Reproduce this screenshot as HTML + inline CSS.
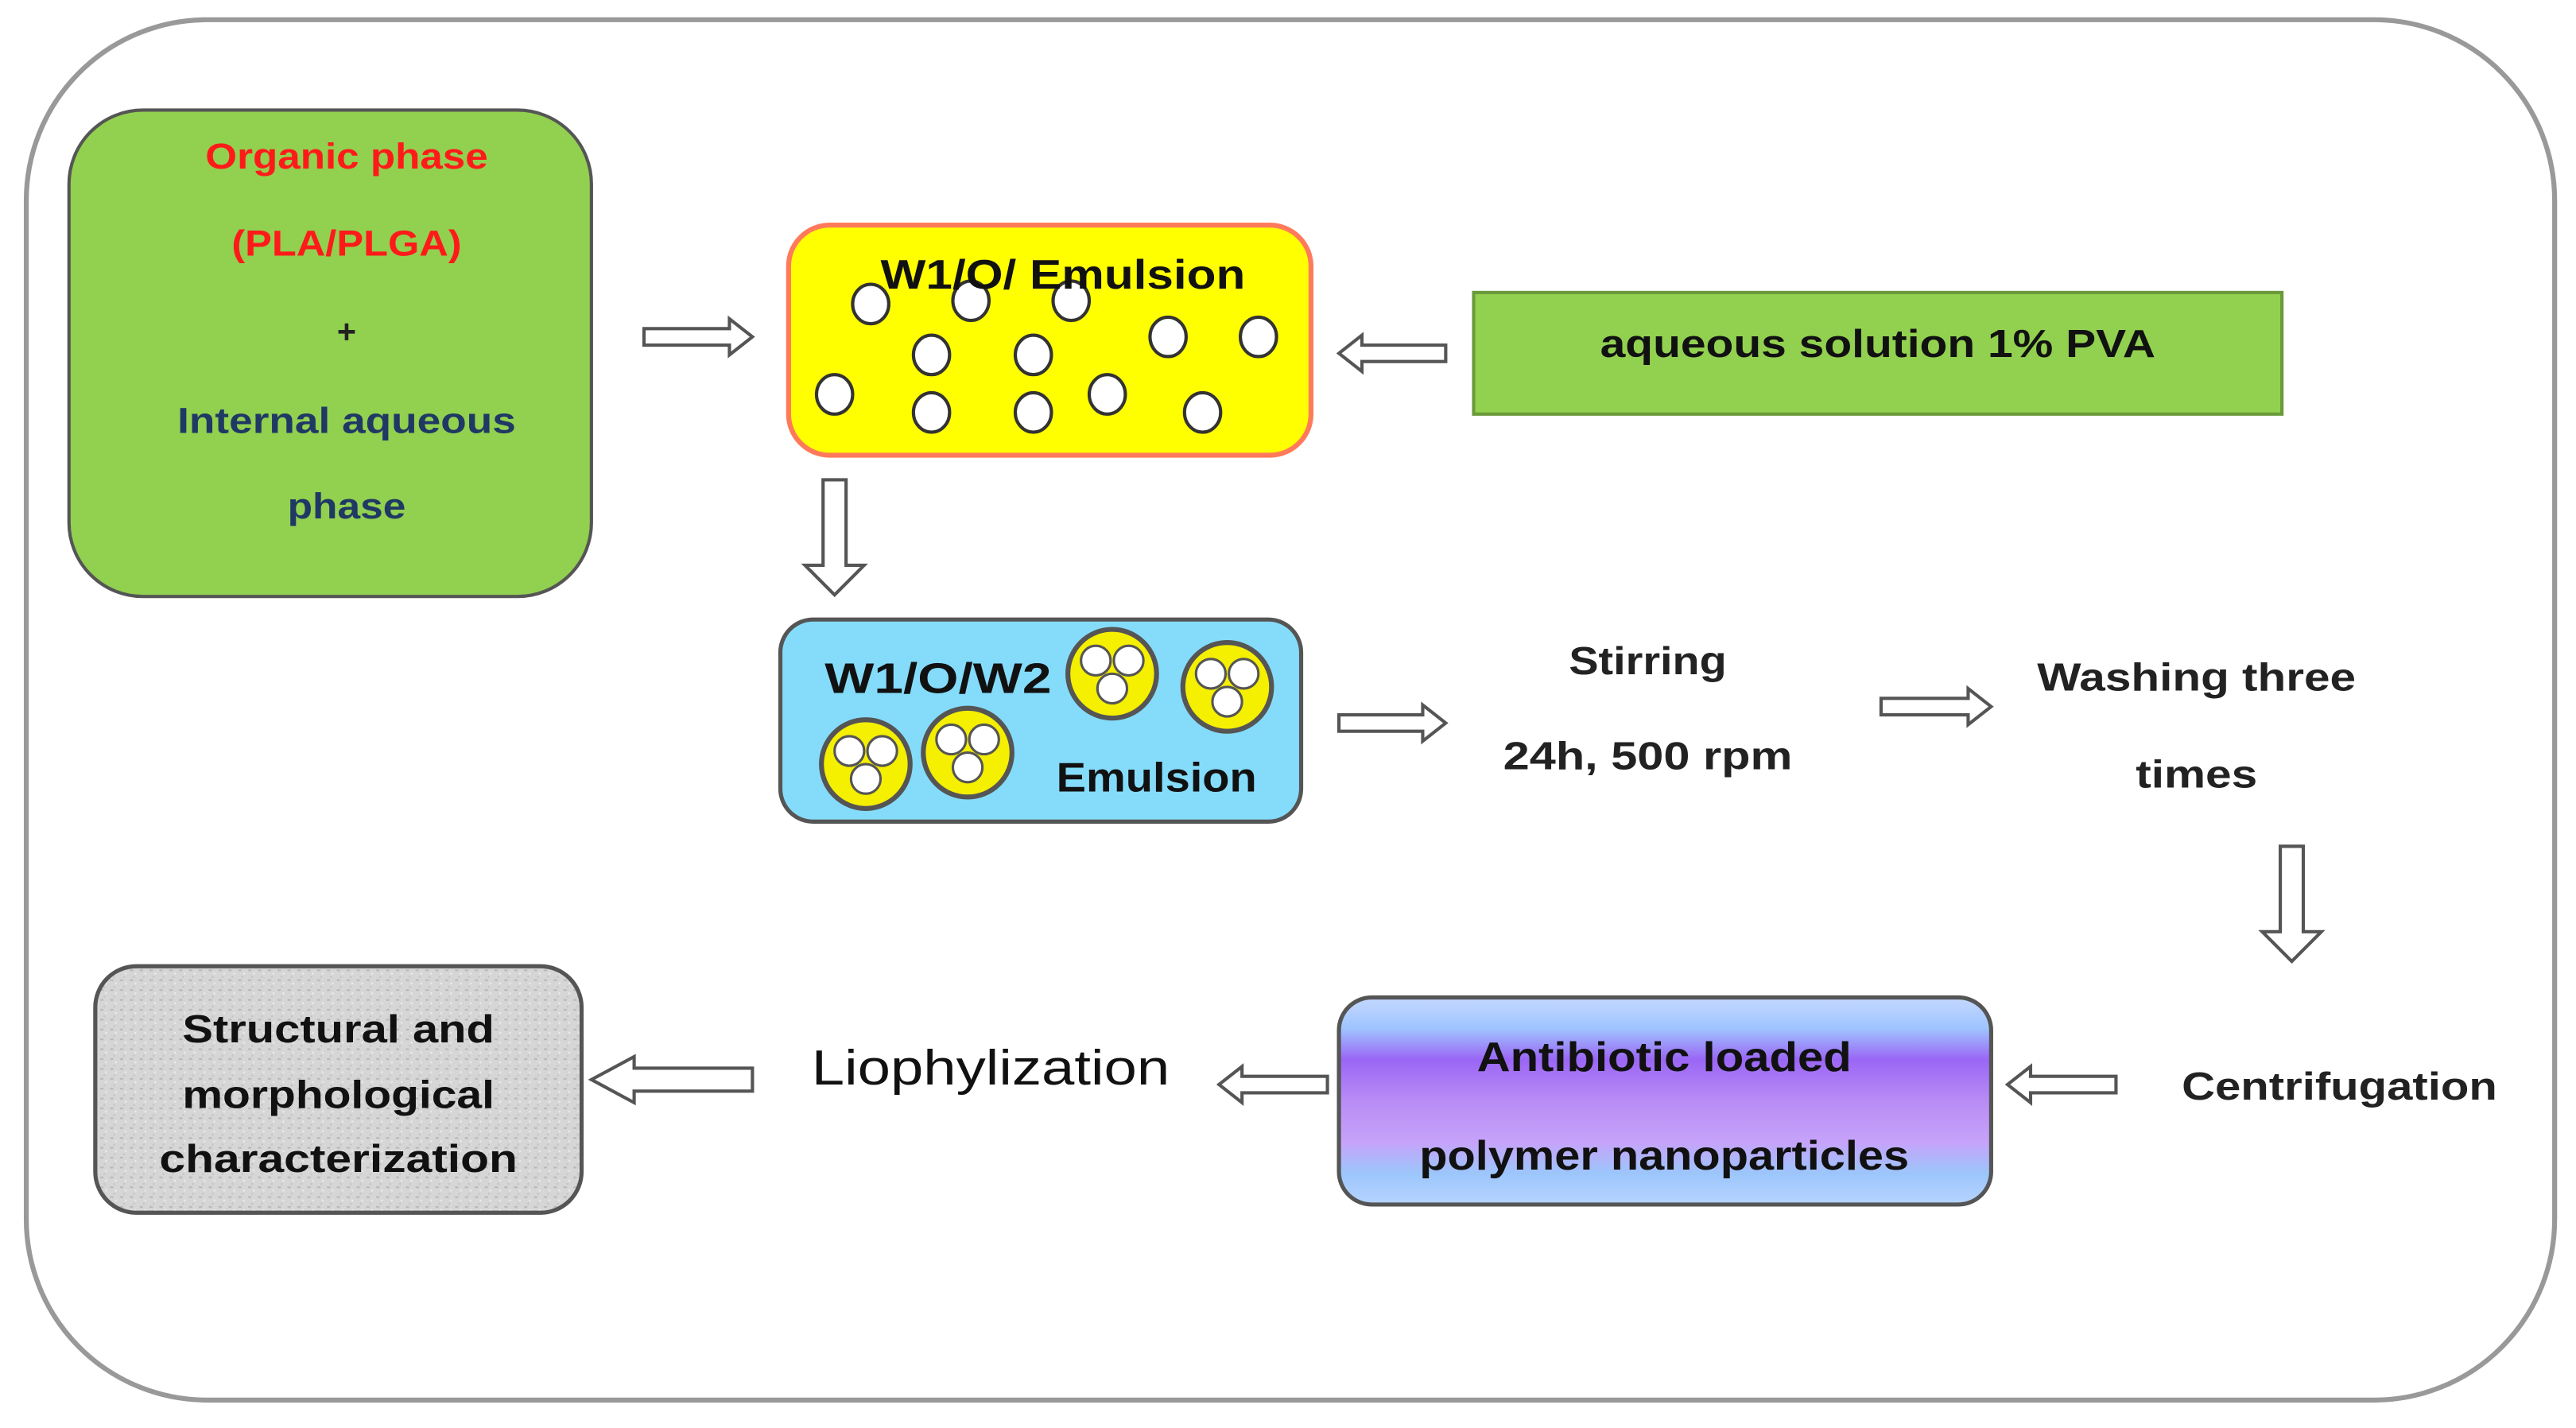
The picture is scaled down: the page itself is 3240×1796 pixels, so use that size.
<!DOCTYPE html>
<html><head><meta charset="utf-8"><style>html,body{margin:0;padding:0;background:#fff}svg{display:block}
text{font-family:"Liberation Sans",sans-serif;font-weight:bold;text-anchor:middle;dominant-baseline:central}</style></head>
<body>
<svg width="3240" height="1796" viewBox="0 0 1568 869" preserveAspectRatio="none" xmlns="http://www.w3.org/2000/svg">
<defs>
<linearGradient id="pg" x1="0" y1="0" x2="0" y2="1">
<stop offset="0" stop-color="#c4d8ff"/><stop offset="0.15" stop-color="#9fc4ff"/><stop offset="0.3" stop-color="#9a66f5"/><stop offset="0.5" stop-color="#b98cf5"/><stop offset="0.7" stop-color="#c6a3fa"/><stop offset="0.85" stop-color="#9cc6fb"/><stop offset="1" stop-color="#b6d4ff"/></linearGradient>
<pattern id="tex" width="6" height="6" patternUnits="userSpaceOnUse"><rect width="6" height="6" fill="#d6d6d6"/><rect x="1" y="2" width="2" height="1" fill="#b8b8b8"/><rect x="4" y="4" width="1" height="1" fill="#eee"/><rect x="3" y="0" width="1" height="1" fill="#c2c2c2"/></pattern>
<g id="wc"><ellipse rx="11" ry="12" fill="#fff" stroke="#333" stroke-width="2"/></g>
<g id="big"><circle r="27" fill="#f5ef00" stroke="#555" stroke-width="3"/><circle cx="-10" cy="-8" r="9" fill="#fff" stroke="#555" stroke-width="1.5"/><circle cx="10" cy="-8" r="9" fill="#fff" stroke="#555" stroke-width="1.5"/><circle cx="0" cy="9" r="9" fill="#fff" stroke="#555" stroke-width="1.5"/></g>
</defs>
<rect x="16" y="12" width="1539" height="840" rx="110" fill="#fff" stroke="#999" stroke-width="3"/>

<rect x="42" y="67" width="318" height="296" rx="45" fill="#92d050" stroke="#555" stroke-width="2"/>
<text x="211" y="95" font-size="22" fill="#ff1a1a" textLength="172" lengthAdjust="spacingAndGlyphs">Organic phase</text>
<text x="211" y="148" font-size="22" fill="#ff1a1a" textLength="140" lengthAdjust="spacingAndGlyphs">(PLA/PLGA)</text>
<text x="211" y="202" font-size="20" fill="#222">+</text>
<text x="211" y="256" font-size="22" fill="#1f3864" textLength="206" lengthAdjust="spacingAndGlyphs">Internal aqueous</text>
<text x="211" y="308" font-size="22" fill="#1f3864" textLength="72" lengthAdjust="spacingAndGlyphs">phase</text>

<rect x="480" y="137" width="318" height="140" rx="25" fill="#ffff00" stroke="#ff7a5a" stroke-width="3"/>
<g>
<use href="#wc" x="530" y="185"/><use href="#wc" x="591" y="183"/><use href="#wc" x="652" y="183"/><use href="#wc" x="711" y="205"/><use href="#wc" x="766" y="205"/><use href="#wc" x="567" y="216"/><use href="#wc" x="629" y="216"/><use href="#wc" x="508" y="240"/><use href="#wc" x="567" y="251"/><use href="#wc" x="629" y="251"/><use href="#wc" x="674" y="240"/><use href="#wc" x="732" y="251"/>
</g>
<text x="647" y="167" font-size="25" fill="#111" textLength="222" lengthAdjust="spacingAndGlyphs">W1/O/ Emulsion</text>

<rect x="897" y="178" width="492" height="74" fill="#92d050" stroke="#6a9a3a" stroke-width="2"/>
<text x="1143" y="209" font-size="24" fill="#111" textLength="338" lengthAdjust="spacingAndGlyphs">aqueous solution 1% PVA</text>

<rect x="475" y="377" width="317" height="123" rx="20" fill="#84dcfa" stroke="#555" stroke-width="2.5"/>
<use href="#big" x="677" y="410"/><use href="#big" x="747" y="418"/><use href="#big" x="527" y="465"/><use href="#big" x="589" y="458"/>
<text x="571" y="413" font-size="26" fill="#111" textLength="138" lengthAdjust="spacingAndGlyphs">W1/O/W2</text>
<text x="704" y="473" font-size="25" fill="#111" textLength="122" lengthAdjust="spacingAndGlyphs">Emulsion</text>

<text x="1003" y="402" font-size="24" fill="#222" textLength="96" lengthAdjust="spacingAndGlyphs">Stirring</text>
<text x="1003" y="460" font-size="24" fill="#222" textLength="176" lengthAdjust="spacingAndGlyphs">24h, 500 rpm</text>
<text x="1337" y="412" font-size="24" fill="#222" textLength="194" lengthAdjust="spacingAndGlyphs">Washing three</text>
<text x="1337" y="471" font-size="24" fill="#222" textLength="74" lengthAdjust="spacingAndGlyphs">times</text>
<text x="1424" y="661" font-size="24" fill="#222" textLength="192" lengthAdjust="spacingAndGlyphs">Centrifugation</text>

<rect x="815" y="607" width="397" height="126" rx="20" fill="url(#pg)" stroke="#555" stroke-width="2.5"/>
<text x="1013" y="643" font-size="25" fill="#111" textLength="228" lengthAdjust="spacingAndGlyphs">Antibiotic loaded</text>
<text x="1013" y="703" font-size="25" fill="#111" textLength="298" lengthAdjust="spacingAndGlyphs">polymer nanoparticles</text>

<text x="603" y="650" font-size="30" fill="#111" style="font-weight:normal" textLength="218" lengthAdjust="spacingAndGlyphs">Liophylization</text>

<rect x="58" y="588" width="296" height="150" rx="25" fill="url(#tex)" stroke="#555" stroke-width="2.5"/>
<text x="206" y="626" font-size="24" fill="#111" textLength="190" lengthAdjust="spacingAndGlyphs">Structural and</text>
<text x="206" y="666" font-size="24" fill="#111" textLength="190" lengthAdjust="spacingAndGlyphs">morphological</text>
<text x="206" y="705" font-size="24" fill="#111" textLength="218" lengthAdjust="spacingAndGlyphs">characterization</text>

<g fill="#fff" stroke="#555" stroke-width="2">
<!-- right arrows -->
<path d="M392,200 L444,200 L444,194 L458,205 L444,216 L444,210 L392,210 Z"/>
<path d="M815,435 L866,435 L866,429 L880,440 L866,451 L866,445 L815,445 Z"/>
<path d="M1145,425 L1198,425 L1198,419 L1212,430 L1198,441 L1198,435 L1145,435 Z"/>
<!-- left arrows -->
<path d="M880,210 L829,210 L829,204 L815,215 L829,226 L829,220 L880,220 Z"/>
<path d="M1288,655 L1236,655 L1236,649 L1222,660 L1236,671 L1236,665 L1288,665 Z"/>
<path d="M808,655 L756,655 L756,649 L742,660 L756,671 L756,665 L808,665 Z"/>
<path d="M458,650 L386,650 L386,643 L360,657 L386,671 L386,664 L458,664 Z"/>
<!-- down arrows -->
<path d="M501,292 L515,292 L515,344 L526,344 L508,362 L490,344 L501,344 Z"/>
<path d="M1388,515 L1402,515 L1402,567 L1413,567 L1395,585 L1377,567 L1388,567 Z"/>
</g>
</svg>
</body></html>
